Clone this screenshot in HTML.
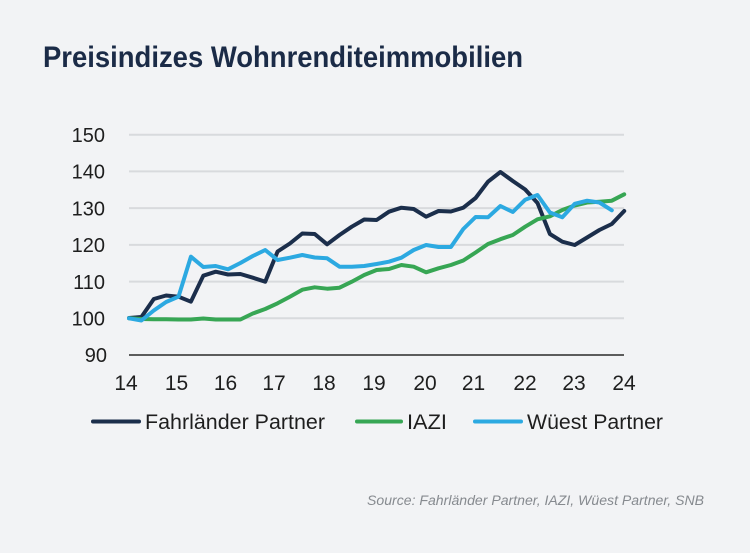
<!DOCTYPE html>
<html>
<head>
<meta charset="utf-8">
<style>
  html, body { margin:0; padding:0; background:#f2f3f5; }
  body { width:750px; height:553px; overflow:hidden; }
  svg { display:block; }
  text { font-family: "Liberation Sans", "DejaVu Sans", sans-serif; }
</style>
</head>
<body>
<svg width="750" height="553" viewBox="0 0 750 553" xmlns="http://www.w3.org/2000/svg">
  <rect x="0" y="0" width="750" height="553" fill="#f2f3f5"/>

  <!-- Title -->
  <text x="43" y="67" font-size="30" font-weight="bold" fill="#1b2b47" textLength="480" lengthAdjust="spacingAndGlyphs">Preisindizes Wohnrenditeimmobilien</text>

  <!-- Grid lines -->
  <g stroke="#d8dadd" stroke-width="2">
    <line x1="129" y1="134.7" x2="624" y2="134.7"/>
    <line x1="129" y1="171.4" x2="624" y2="171.4"/>
    <line x1="129" y1="208.1" x2="624" y2="208.1"/>
    <line x1="129" y1="244.9" x2="624" y2="244.9"/>
    <line x1="129" y1="281.6" x2="624" y2="281.6"/>
    <line x1="129" y1="318.3" x2="624" y2="318.3"/>
  </g>
  <line x1="129" y1="355" x2="624" y2="355" stroke="#2a2a2a" stroke-width="1.6"/>

  <!-- Y labels -->
  <g font-size="20" fill="#1e1e1e" text-anchor="end">
    <text x="105" y="141.9">150</text>
    <text x="105" y="178.6">140</text>
    <text x="105" y="215.3">130</text>
    <text x="105" y="252.1">120</text>
    <text x="105" y="288.8">110</text>
    <text x="105" y="325.5">100</text>
    <text x="107" y="362.2">90</text>
  </g>

  <!-- X labels -->
  <g font-size="21" fill="#1e1e1e" text-anchor="middle">
    <text x="126" y="390">14</text>
    <text x="176.5" y="390">15</text>
    <text x="225.5" y="390">16</text>
    <text x="274" y="390">17</text>
    <text x="324" y="390">18</text>
    <text x="374" y="390">19</text>
    <text x="425" y="390">20</text>
    <text x="473.5" y="390">21</text>
    <text x="525" y="390">22</text>
    <text x="574" y="390">23</text>
    <text x="624" y="390">24</text>
  </g>

  <!-- Series -->
  <g fill="none" stroke-width="4" stroke-linejoin="round" stroke-linecap="round">
    <polyline stroke="#1b2e4b" points="129,318 141.4,317 153.8,299 166.1,295.5 178.5,296.7 190.9,301.7 203.3,275.7 215.7,271.7 228,274.5 240.4,274 252.8,277.7 265.2,281.7 277.6,251.5 289.9,243.5 302.3,233.5 314.7,234 327.1,244.3 339.5,235 351.8,226.7 364.2,219.5 376.6,220 389,211.7 401.4,207.7 413.7,209 426.1,216.7 438.5,211 450.9,211.5 463.3,207.7 475.6,198 488,181.7 500.4,172 512.8,181 525.2,189.5 537.5,203 549.9,234 562.3,241.7 574.7,245 587.1,237.5 599.4,230 611.8,224 624.2,211"/>
    <polyline stroke="#37a654" points="129,318.3 141.4,319 153.8,319.3 166.1,319.3 178.5,319.5 190.9,319.5 203.3,318.5 215.7,319.5 228,319.5 240.4,319.5 252.8,313.5 265.2,309 277.6,303.3 289.9,296.7 302.3,289.7 314.7,287.3 327.1,288.7 339.5,287.7 351.8,281.7 364.2,275 376.6,270 389,269 401.4,265 413.7,266.7 426.1,272.3 438.5,268.3 450.9,265 463.3,260.5 475.6,252.5 488,244 500.4,239.2 512.8,235 525.2,226.7 537.5,219.3 549.9,216.3 562.3,210 574.7,205.5 587.1,202.5 599.4,201.7 611.8,200.7 624.2,194.3"/>
    <polyline stroke="#2ca9e1" points="129,318.3 141.4,320.5 153.8,310.5 166.1,302 178.5,296.7 190.9,256.7 203.3,267 215.7,266 228,269.3 240.4,263 252.8,256 265.2,250 277.6,260 289.9,257.7 302.3,255 314.7,257.5 327.1,258.3 339.5,266.7 351.8,266.7 364.2,266 376.6,264 389,261.7 401.4,257.7 413.7,250 426.1,245 438.5,247 450.9,247 463.3,229 475.6,217 488,217.3 500.4,206 512.8,212 525.2,199.7 537.5,195 549.9,212.5 562.3,217.3 574.7,203.8 587.1,200.7 599.4,202.5 611.8,210.3"/>
  </g>

  <!-- Legend -->
  <g stroke-width="4" stroke-linecap="round">
    <line x1="93" y1="421.5" x2="139" y2="421.5" stroke="#1b2e4b"/>
    <line x1="357" y1="421.5" x2="401" y2="421.5" stroke="#37a654"/>
    <line x1="475" y1="421.5" x2="521" y2="421.5" stroke="#2ca9e1"/>
  </g>
  <g font-size="21" fill="#1e1e1e">
    <text x="145" y="429" textLength="180" lengthAdjust="spacingAndGlyphs">Fahrländer Partner</text>
    <text x="407" y="429" textLength="40" lengthAdjust="spacingAndGlyphs">IAZI</text>
    <text x="527" y="429" textLength="136" lengthAdjust="spacingAndGlyphs">Wüest Partner</text>
  </g>

  <!-- Source -->
  <text x="367" y="505" font-size="13.5" font-style="italic" fill="#868a8f" textLength="337" lengthAdjust="spacingAndGlyphs">Source: Fahrländer Partner, IAZI, Wüest Partner, SNB</text>
</svg>
</body>
</html>
